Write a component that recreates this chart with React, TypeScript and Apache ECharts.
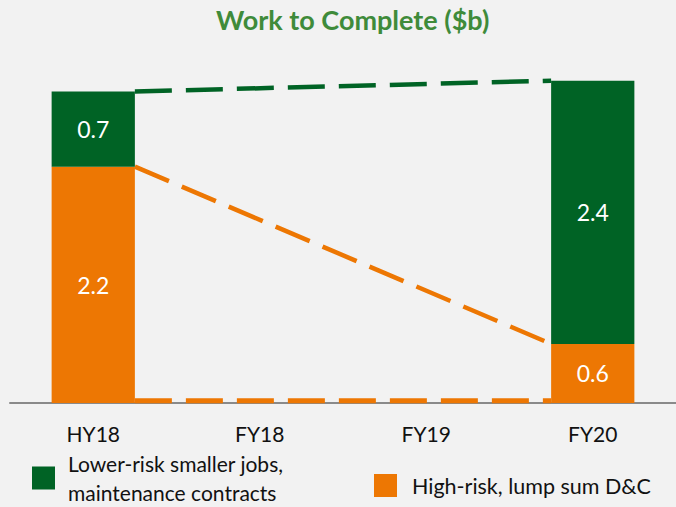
import React, { useEffect, useRef } from "react";
import * as echarts from "echarts";

const categories = ["HY18", "FY18", "FY19", "FY20"];
const highRiskValues: (number | string)[] = [2.2, "-", "-", 0.55];
const lowerRiskValues: (number | string)[] = [0.7, "-", "-", 2.45];
const highRiskLabels = ["2.2", "", "", "0.6"];
const lowerRiskLabels = ["0.7", "", "", "2.4"];
const baselineDashValue = 0.02;

const LOWER_NAME = "Lower-risk smaller jobs, maintenance contracts";
const HIGH_NAME = "High-risk, lump sum D&C";

const GREEN = "#006325";
const ORANGE = "#ED7703";
const FONT = "Lato";

export default function App() {
  const ref = useRef<HTMLDivElement>(null);

  useEffect(() => {
    if (!ref.current) return;
    const chart = echarts.init(ref.current, undefined, { renderer: "svg" });

    const first = 0;
    const last = categories.length - 1;
    const half = 0.25; // half of barWidth 50% in category units
    const total = (i: number) =>
      (highRiskValues[i] as number) + (lowerRiskValues[i] as number);

    const dashStyle = (color: string) => ({
      color,
      width: 4.5,
      type: [37, 14] as number[],
    });

    chart.setOption({
      animation: false,
      backgroundColor: "#F2F2F2",
      title: {
        text: "Work to Complete ($b)",
        left: 216,
        top: 6,
        padding: 0,
        textStyle: {
          color: "#3F8B3A",
          fontSize: 27,
          fontWeight: "bold",
          fontFamily: FONT,
        },
      },
      legend: [
        {
          data: [LOWER_NAME],
          left: 32,
          top: 449,
          padding: 0,
          icon: "rect",
          itemWidth: 23,
          itemHeight: 23,
          selectedMode: false,
          formatter: () => "Lower-risk smaller jobs,\nmaintenance contracts",
          textStyle: {
            fontFamily: FONT,
            fontSize: 21,
            lineHeight: 29,
            color: "#111",
            padding: [0, 0, 0, 8],
          },
        },
        {
          data: [HIGH_NAME],
          left: 374,
          top: 471,
          padding: 0,
          icon: "rect",
          itemWidth: 23,
          itemHeight: 23,
          selectedMode: false,
          textStyle: {
            fontFamily: FONT,
            fontSize: 21.5,
            lineHeight: 29,
            color: "#111",
            padding: [0, 0, 0, 10],
          },
        },
      ],
      grid: {
        left: 10,
        width: 675,
        top: 27,
        bottom: 104,
        containLabel: false,
      },
      xAxis: [
        {
          type: "category",
          data: categories,
          axisLine: { lineStyle: { color: "#8A8A8A", width: 2 } },
          axisTick: { show: false },
          axisLabel: {
            margin: 20,
            color: "#111",
            fontSize: 21,
            fontFamily: FONT,
          },
        },
        {
          type: "value",
          min: -0.5,
          max: categories.length - 0.5,
          show: false,
        },
      ],
      yAxis: {
        type: "value",
        min: 0,
        max: 3.5,
        show: false,
        splitLine: { show: false },
      },
      series: [
        {
          name: HIGH_NAME,
          type: "bar",
          stack: "wtc",
          barWidth: "50%",
          data: highRiskValues,
          itemStyle: { color: ORANGE },
          label: {
            show: true,
            position: "inside",
            color: "#fff",
            fontSize: 23,
            fontFamily: FONT,
            formatter: (p: any) => highRiskLabels[p.dataIndex],
          },
          z: 3,
        },
        {
          name: LOWER_NAME,
          type: "bar",
          stack: "wtc",
          barWidth: "50%",
          data: lowerRiskValues,
          itemStyle: { color: GREEN },
          label: {
            show: true,
            position: "inside",
            color: "#fff",
            fontSize: 23,
            fontFamily: FONT,
            formatter: (p: any) => lowerRiskLabels[p.dataIndex],
          },
          z: 3,
        },
        {
          name: "greenTrend",
          type: "line",
          xAxisIndex: 1,
          showSymbol: false,
          silent: true,
          data: [
            [first + half, total(first)],
            [last - half, total(last)],
          ],
          lineStyle: dashStyle(GREEN),
          z: 2,
        },
        {
          name: "orangeTrend",
          type: "line",
          xAxisIndex: 1,
          showSymbol: false,
          silent: true,
          data: [
            [first + half, highRiskValues[first]],
            [last - half, highRiskValues[last]],
          ],
          lineStyle: dashStyle(ORANGE),
          z: 2,
        },
        {
          name: "orangeBase",
          type: "line",
          xAxisIndex: 1,
          showSymbol: false,
          silent: true,
          data: [
            [first + half, baselineDashValue],
            [last - half, baselineDashValue],
          ],
          lineStyle: { ...dashStyle(ORANGE), width: 5 },
          z: 2,
        },
      ],
    });

    return () => chart.dispose();
  }, []);

  return (
    <div
      ref={ref}
      style={{ position: "fixed", left: 0, top: 0, width: 676, height: 507 }}
    />
  );
}
